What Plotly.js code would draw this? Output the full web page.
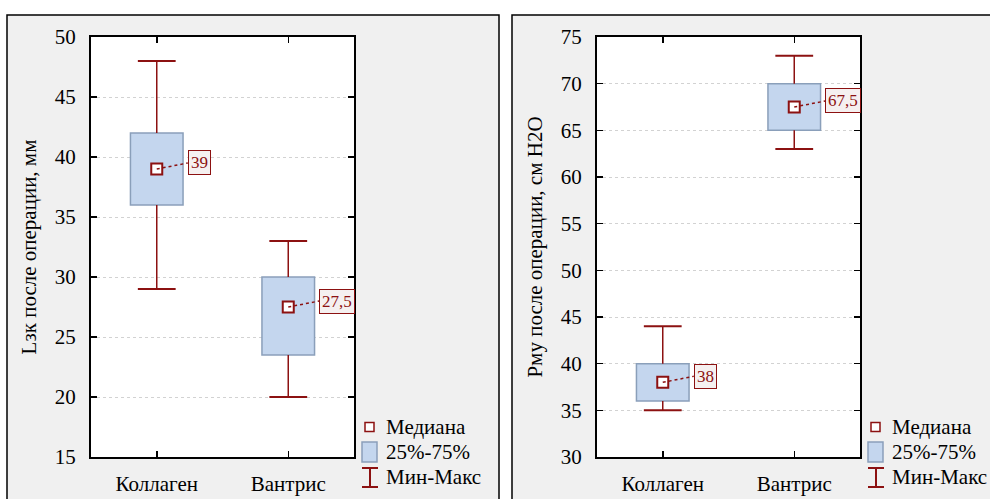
<!DOCTYPE html>
<html>
<head>
<meta charset="utf-8">
<script src="https://cdn.plot.ly/plotly-3.0.1.min.js"></script>
<style>
  html, body { margin: 0; padding: 0; background: #ffffff; }
  #chart { width: 990px; height: 499px; }
</style>
</head>
<body>
<div id="chart"></div>
<script>
// Groups shown on the x axis of both panels
const categories = ['Коллаген', 'Вантрис'];

// Lзк после операции, мм
const lzkMin    = [29, 20];
const lzkQ1     = [36, 23.5];
const lzkMedian = [39, 27.5];
const lzkQ3     = [42, 30];
const lzkMax    = [48, 33];

// Рму после операции, см Н2О
const pmuMin    = [35, 63];
const pmuQ1     = [36, 65];
const pmuMedian = [38, 67.5];
const pmuQ3     = [40, 70];
const pmuMax    = [44, 73];

const legendLabels = ['Медиана', '25%-75%', 'Мин-Макс'];

// ---- styling ----
const W = 990, H = 499;
const SERIF = 'Liberation Serif';
const DARK_RED = '#8c1111';
const BOX_FILL = '#c4d6ee';
const BOX_LINE = '#8a9fba';
const PANEL_BG = '#f0f0f0';

const px = x => x / W;          // pixel -> paper x
const py = y => 1 - y / H;      // pixel -> paper y

const fmt = v => String(v).replace('.', ',');

function panelTraces(xa, ya, mn, q1, med, q3, mx) {
  const idx = categories.map((_, i) => i);
  const stemX = [], stemY = [], capX = [], capY = [];
  idx.forEach(i => {
    stemX.push(i, i, null, i, i, null);
    stemY.push(q3[i], mx[i], null, q1[i], mn[i], null);
    capX.push(i, i);
    capY.push(mx[i], mn[i]);
  });
  return [
    { // interquartile box
      type: 'bar', x: idx, base: q1, y: idx.map(i => q3[i] - q1[i]),
      width: 0.4, xaxis: xa, yaxis: ya, showlegend: false, hoverinfo: 'skip',
      marker: { color: BOX_FILL, line: { color: BOX_LINE, width: 1.5 } }
    },
    { // whisker stems
      type: 'scatter', mode: 'lines', x: stemX, y: stemY,
      xaxis: xa, yaxis: ya, showlegend: false, hoverinfo: 'skip',
      line: { color: DARK_RED, width: 1.5 }
    },
    { // whisker caps at min / max
      type: 'scatter', mode: 'markers', x: capX, y: capY,
      xaxis: xa, yaxis: ya, showlegend: false, hoverinfo: 'skip',
      marker: { symbol: 'line-ew', size: 27, color: DARK_RED,
                line: { color: DARK_RED, width: 2 } }
    },
    { // medians
      type: 'scatter', mode: 'markers', x: idx, y: med,
      xaxis: xa, yaxis: ya, showlegend: false, hoverinfo: 'skip',
      marker: { symbol: 'square', size: 11, color: '#ffffff',
                line: { color: DARK_RED, width: 2 } }
    }
  ];
}

function medianLabels(xa, ya, med) {
  const shapes = [], notes = [];
  med.forEach((v, i) => {
    shapes.push({
      type: 'line', xref: xa, yref: ya,
      xsizemode: 'pixel', ysizemode: 'pixel',
      xanchor: i, yanchor: v, x0: 0, x1: 31, y0: 0, y1: 6,
      line: { color: DARK_RED, width: 1.5, dash: 'dot' }
    });
    notes.push({
      xref: xa, yref: ya, x: i, y: v, text: fmt(v), showarrow: false,
      xanchor: 'left', yanchor: 'middle', xshift: 31, yshift: 6,
      bgcolor: '#f5f0f0', bordercolor: DARK_RED, borderwidth: 1, borderpad: 2,
      font: { family: SERIF, size: 17, color: DARK_RED }
    });
  });
  return { shapes, notes };
}

function legendBlock(R) {
  const shapes = [
    { type: 'rect', xref: 'paper', yref: 'paper',
      x0: px(R + 11), x1: px(R + 20), y0: py(431.5), y1: py(422.5),
      fillcolor: '#ffffff', line: { color: DARK_RED, width: 1.5 } },
    { type: 'rect', xref: 'paper', yref: 'paper',
      x0: px(R + 8), x1: px(R + 23), y0: py(462), y1: py(442),
      fillcolor: BOX_FILL, line: { color: BOX_LINE, width: 1.5 } },
    { type: 'path', xref: 'paper', yref: 'paper',
      path: `M${px(R + 8)},${py(468)} L${px(R + 24)},${py(468)} ` +
            `M${px(R + 16)},${py(468)} L${px(R + 16)},${py(487)} ` +
            `M${px(R + 8)},${py(487)} L${px(R + 24)},${py(487)}`,
      line: { color: DARK_RED, width: 2 } }
  ];
  const rows = [427, 452, 477];
  const notes = legendLabels.map((t, k) => ({
    xref: 'paper', yref: 'paper', x: px(R + 30), y: py(rows[k]),
    text: t, showarrow: false, xanchor: 'left', yanchor: 'middle',
    font: { family: SERIF, size: 21, color: '#000000' }
  }));
  return { shapes, notes };
}

function xAxis(domain, anchor) {
  return {
    domain, anchor, range: [-0.5, 1.5], tickvals: categories.map((_, i) => i),
    ticktext: categories, ticks: 'inside', ticklen: 6, tickwidth: 1.5,
    tickcolor: '#000000', showline: true, linewidth: 2, linecolor: '#000000',
    mirror: 'ticks', showgrid: false, zeroline: false, fixedrange: true,
    ticklabelstandoff: 7,
    tickfont: { family: SERIF, size: 21, color: '#000000' }
  };
}

function yAxis(domain, anchor, range, title) {
  return {
    domain, anchor, range, tick0: 0, dtick: 5, ticks: 'inside', ticklen: 6,
    tickwidth: 1.5, tickcolor: '#000000', showline: true, linewidth: 2,
    linecolor: '#000000', mirror: 'ticks', zeroline: false, fixedrange: true,
    showgrid: true, gridcolor: '#d2d2d2', gridwidth: 1, griddash: 'dot',
    ticklabelstandoff: 9,
    tickfont: { family: SERIF, size: 21, color: '#000000' },
    title: { text: title, standoff: 12,
             font: { family: SERIF, size: 21, color: '#000000' } }
  };
}

const yDom = [py(457), py(37)];
const leftR = 354, rightR = 860;

const traces = [
  ...panelTraces('x', 'y', lzkMin, lzkQ1, lzkMedian, lzkQ3, lzkMax),
  ...panelTraces('x2', 'y2', pmuMin, pmuQ1, pmuMedian, pmuQ3, pmuMax)
];

const labL = medianLabels('x', 'y', lzkMedian);
const labR = medianLabels('x2', 'y2', pmuMedian);
const legL = legendBlock(leftR);
const legR = legendBlock(rightR);

// page frame: white surround, two grey panels with black borders
const frameShapes = [
  { type: 'rect', xref: 'paper', yref: 'paper', layer: 'below',
    x0: 0, x1: 1, y0: py(15), y1: 1, fillcolor: '#ffffff', line: { width: 0 } },
  { type: 'rect', xref: 'paper', yref: 'paper', layer: 'below',
    x0: 0, x1: px(7), y0: 0, y1: 1, fillcolor: '#ffffff', line: { width: 0 } },
  { type: 'rect', xref: 'paper', yref: 'paper', layer: 'below',
    x0: px(499), x1: px(512), y0: 0, y1: 1, fillcolor: '#ffffff', line: { width: 0 } },
  { type: 'rect', xref: 'paper', yref: 'paper', layer: 'below',
    x0: px(7), x1: px(499), y0: py(520), y1: py(15),
    line: { color: '#000000', width: 1.5 } },
  { type: 'rect', xref: 'paper', yref: 'paper', layer: 'below',
    x0: px(512), x1: px(1010), y0: py(520), y1: py(15),
    line: { color: '#000000', width: 1.5 } }
];

const layout = {
  width: W, height: H,
  margin: { l: 0, r: 0, t: 0, b: 0 },
  paper_bgcolor: PANEL_BG,
  plot_bgcolor: '#ffffff',
  showlegend: false,
  barmode: 'overlay',
  xaxis: xAxis([px(91), px(354)], 'y'),
  yaxis: yAxis(yDom, 'x', [15, 50], 'Lзк после операции, мм'),
  xaxis2: xAxis([px(597), px(860)], 'y2'),
  yaxis2: yAxis(yDom, 'x2', [30, 75], 'Рму после операции, см Н2О'),
  shapes: [...frameShapes, ...labL.shapes, ...labR.shapes, ...legL.shapes, ...legR.shapes],
  annotations: [...labL.notes, ...labR.notes, ...legL.notes, ...legR.notes],
  font: { family: SERIF, color: '#000000' }
};

Plotly.newPlot('chart', traces, layout, { displayModeBar: false, staticPlot: true });
</script>
</body>
</html>
